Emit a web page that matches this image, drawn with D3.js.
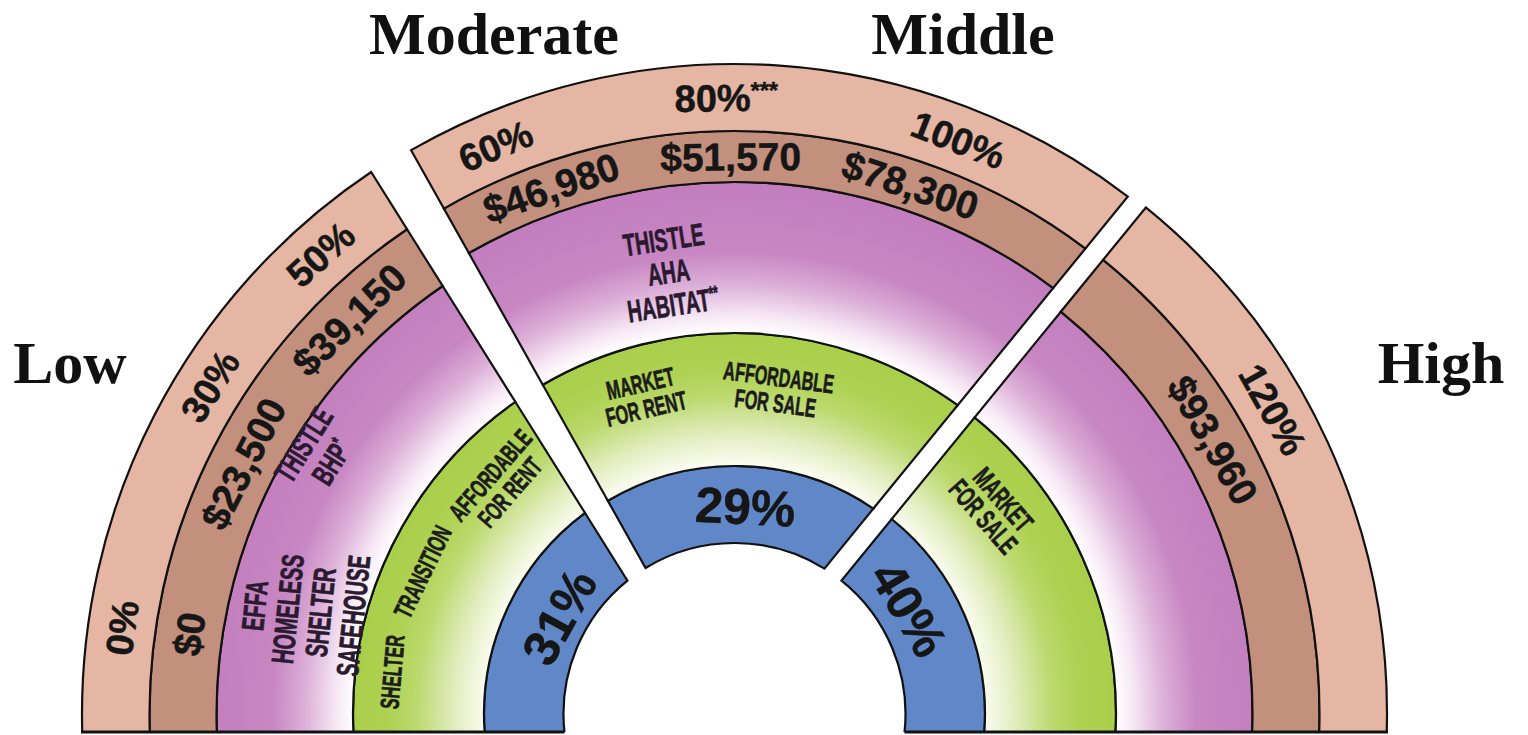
<!DOCTYPE html>
<head>
  <meta charset="utf-8">
  <script src="https://d3js.org/d3.v7.min.js"></script>
  <style>
    body { margin: 0; background: #fff; }
    .title { font-family: "Liberation Serif", "Times New Roman", serif; font-weight: bold; font-size: 60px; fill: #111; }
    .big { font-family: "Liberation Sans", Arial, sans-serif; font-weight: bold; fill: #161616; stroke: #161616; stroke-width: 0.5; }
    .small { font-family: "Liberation Sans", Arial, sans-serif; font-weight: bold; fill: #1c1c1c; stroke: #1c1c1c; stroke-width: 0.7; }
    .prov { fill: #2a1a30; stroke: #2a1a30; }
    .ring { stroke: #111; stroke-width: 2.2; stroke-linejoin: miter; }
  </style>
</head>

<body>
  <script>

  // ---- data ----
  var groups = ["Low", "Moderate / Middle", "High"];
  var groupTitles = ["Low", "Moderate", "Middle", "High"];
  var shareOfHouseholds = ["31%", "29%", "40%"];
  var amiTicks = [["0%", "30%", "50%"], ["60%", "80%***", "100%"], ["120%"]];
  var incomeTicks = [["$0", "$23,500", "$39,150"], ["$46,980", "$51,570", "$78,300"], ["$93,960"]];
  var providers = [
    [["EFFA", "HOMELESS", "SHELTER", "SAFEHOUSE"], ["THISTLE", "BHP*"]],
    [["THISTLE", "AHA", "HABITAT**"]],
    []
  ];
  var housingTypes = [
    [["SHELTER"], ["TRANSITION"], ["AFFORDABLE", "FOR RENT"]],
    [["MARKET", "FOR RENT"], ["AFFORDABLE", "FOR SALE"]],
    [["MARKET", "FOR SALE"]]
  ];
  var rings = ["share", "housing", "provider", "income", "ami"];

  // ---- layout ----
  var width = 1528, height = 735;
  var cx = 734.5, cy = 714;
  var deg = Math.PI / 180;

  // wedge edges: [radial angle (deg, 0 = up, clockwise), offset px]
  var edges = [
    {left: [-90, -18],   right: [-32.1, -19.8]},
    {left: [-29.3, -6.1], right: [39.2, -22.2]},
    {left: [39.2, -1.4],  right: [90, 18]}
  ];
  // ring boundaries per wedge, inside -> outside
  var ringRadii = [
    [171, 250.5, 381.5, 518, 585, 652.5],
    [171, 248, 381, 532, 583, 650],
    [171, 250.5, 381.5, 518, 585, 652.5]
  ];
  var amiArcs = [[-82, -42], [-22.8, 21.3], [55, 66]];
  var incomeArcs = [[-91, -35], [-28.6, 27.8], [55, 65.4]];
  var shareLayout = [{a: -61, r: 201}, {a: 3, r: 208}, {a: 59, r: 204}];
  var providerLayout = [[{a: -76.5, r: 443, rot: -84}, {a: -58, r: 492}], [{a: -8.5, r: 447}], []];
  var housingLayout = [[{a: -83, r: 345, rot: -85, s: 26}, {a: -65.5, r: 343, rot: -64, s: 26}, {a: -45.5, r: 329, rot: -49, s: 26}],
                       [{a: -16, r: 331, rot: -13, s: 26}, {a: 7.5, r: 327, s: 26}], [{a: 51.5, r: 331, rot: 49, s: 28}]];
  var titlePos = [[70, 383], [494, 54], [963, 54], [1441, 383]];

  var fill = d3.scaleOrdinal()
    .domain(rings)
    .range(["#6088c8", "url(#gGreen)", "url(#gPurple)", "#c2907d", "#e5b6a3"]);

  var svg = d3.select("body").append("svg")
    .attr("width", width)
    .attr("height", height);

  var defs = svg.append("defs");

  function radial(id, R, stops) {
    var g = defs.append("radialGradient")
      .attr("id", id)
      .attr("gradientUnits", "userSpaceOnUse")
      .attr("cx", cx).attr("cy", cy).attr("fx", cx).attr("fy", cy)
      .attr("r", R);
    stops.forEach(function(s) {
      g.append("stop").attr("offset", s[0] / R).attr("stop-color", s[1]);
    });
  }
  radial("gPurple", 600, [[381, "#ffffff"], [398, "#f7e9f5"], [430, "#dcafd8"], [462, "#c887c3"], [540, "#c17cbd"]]);
  radial("gGreen", 400, [[250, "#fbfcf0"], [280, "#e2edbf"], [318, "#bcd96e"], [345, "#aed253"], [382, "#a8cf4a"]]);

  function edgeAngle(side, r) {
    return side[0] * deg + Math.asin(side[1] / r);
  }

  function wedgePath(r0, r1, e) {
    var p = d3.path();
    var l1 = edgeAngle(e.left, r1), rr1 = edgeAngle(e.right, r1);
    var l0 = edgeAngle(e.left, r0), rr0 = edgeAngle(e.right, r0);
    p.moveTo(cx + r1 * Math.sin(l1), cy - r1 * Math.cos(l1));
    p.arc(cx, cy, r1, l1 - Math.PI / 2, rr1 - Math.PI / 2, false);
    p.lineTo(cx + r0 * Math.sin(rr0), cy - r0 * Math.cos(rr0));
    p.arc(cx, cy, r0, rr0 - Math.PI / 2, l0 - Math.PI / 2, true);
    p.closePath();
    return p.toString();
  }

  // clip everything below the base line
  defs.append("clipPath").attr("id", "base")
    .append("rect").attr("x", 0).attr("y", 0).attr("width", width).attr("height", cy + 18);

  var chart = svg.append("g").attr("clip-path", "url(#base)");

  groups.forEach(function(grp, gi) {
    var g = chart.append("g").attr("class", "wedge");
    g.selectAll("path")
      .data(rings)
      .enter().append("path")
        .attr("class", "ring")
        .attr("fill", function(d) { return fill(d); })
        .attr("d", function(d, i) { return wedgePath(ringRadii[gi][i], ringRadii[gi][i + 1], edges[gi]); });
  });

  // base line
  svg.append("line")
    .attr("x1", cx - ringRadii[0][5] - 1).attr("x2", cx - ringRadii[0][0] + 1)
    .attr("y1", cy + 18).attr("y2", cy + 18)
    .attr("stroke", "#111").attr("stroke-width", 3);
  svg.append("line")
    .attr("x1", cx + ringRadii[2][0] - 1).attr("x2", cx + ringRadii[2][5] + 1)
    .attr("y1", cy + 18).attr("y2", cy + 18)
    .attr("stroke", "#111").attr("stroke-width", 3);

  // ---- labels ----
  var labels = svg.append("g");

  function label(lines, a, r, cls, size, lh, sx, rot) {
    var x = cx + r * Math.sin(a * deg), y = cy - r * Math.cos(a * deg);
    if (rot === undefined) rot = a;
    var t = labels.append("text")
      .attr("class", cls)
      .attr("text-anchor", "middle")
      .style("font-size", size + "px")
      .attr("transform", "translate(" + x + "," + y + ")rotate(" + rot + ")scale(" + sx + ",1)");
    lines.forEach(function(line, i) {
      var m = line.match(/^(.*?)(\*+)$/);
      t.append("tspan")
        .attr("x", 0)
        .attr("y", (i - (lines.length - 1) / 2) * lh + 0.36 * size)
        .text(m ? m[1] : line);
      if (m) {
        t.append("tspan")
          .attr("dy", -0.33 * size)
          .style("font-size", (0.62 * size) + "px")
          .text(m[2]);
      }
    });
  }

  groups.forEach(function(grp, gi) {
    var rA = (ringRadii[gi][4] + ringRadii[gi][5]) / 2;
    var rI = (ringRadii[gi][3] + ringRadii[gi][4]) / 2;
    var amiVals = amiTicks[gi].map(parseFloat);
    var amiScale = d3.scaleLinear().domain(d3.extent(amiVals)).range(amiArcs[gi]);
    var incScale = d3.scalePoint().domain(incomeTicks[gi]).range(incomeArcs[gi]).padding(0.5);
    amiTicks[gi].forEach(function(d, k) { label([d], amiScale(amiVals[k]), rA, "big", 38, 0, 1); });
    incomeTicks[gi].forEach(function(d) { label([d], incScale(d), rI, "big", 39, 0, 1); });
    providers[gi].forEach(function(lines, k) {
      var p = providerLayout[gi][k];
      label(lines, p.a, p.r, "small prov", 31, 33, 0.63, p.rot);
    });
    housingTypes[gi].forEach(function(lines, k) {
      var p = housingLayout[gi][k];
      label(lines, p.a, p.r, "small", p.s, 26, 0.62, p.rot);
    });
    label([shareOfHouseholds[gi]], shareLayout[gi].a, shareLayout[gi].r, "big", 50, 0, 1);
  });

  svg.selectAll(".title")
    .data(groupTitles)
    .enter().append("text")
      .attr("class", "title")
      .attr("text-anchor", "middle")
      .attr("x", function(d, i) { return titlePos[i][0]; })
      .attr("y", function(d, i) { return titlePos[i][1]; })
      .text(function(d) { return d; });

  </script>
</body>
